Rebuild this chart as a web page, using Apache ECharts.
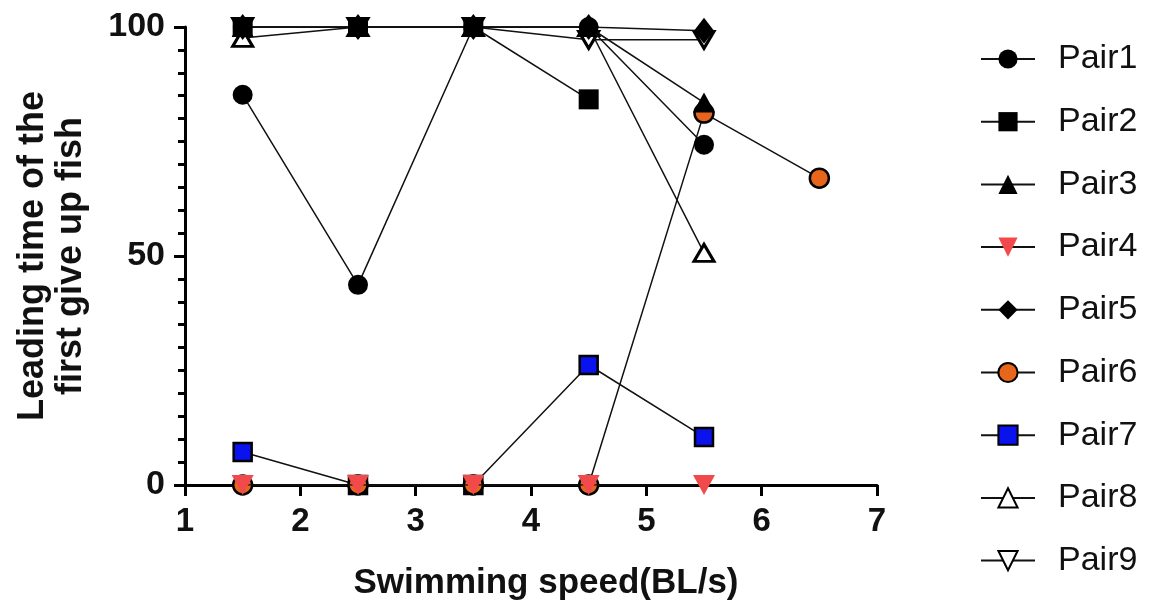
<!DOCTYPE html>
<html><head><meta charset="utf-8">
<script src="https://cdn.jsdelivr.net/npm/echarts@6/dist/echarts.min.js"></script>
<style>html,body{margin:0;padding:0;background:#fff}#c{width:1152px;height:608px}</style>
</head><body><div id="c"></div>
<script>
// Data
const speeds = [1.5, 2.5, 3.5, 4.5, 5.5, 6.5];
const pair1 = [85.2, 43.7, 100, 100, 74.3, null];
const pair2 = [100, 100, 100, 84.2, null, null];
const pair3 = [100, 100, 100, 100, 83.5, null];
const pair4 = [0, 0, 0, 0, 0, null];
const pair5 = [100, 100, 100, 100, 99.2, null];
const pair6 = [0, 0, 0, 0, 81.2, 67.0];
const pair7 = [7.2, 0, 0, 26.2, 10.5, null];
const pair8 = [97.6, 100, 100, 100, 50.7, null];
const pair9 = [100, 100, 100, 97.2, 97.2, null];
const names = ['Pair1','Pair2','Pair3','Pair4','Pair5','Pair6','Pair7','Pair8','Pair9'];
const values = [pair1, pair2, pair3, pair4, pair5, pair6, pair7, pair8, pair9];

const styles = [
  {symbol:'circle', size:20, color:'#000', borderColor:'#000', borderWidth:0},
  {symbol:'rect', size:20, color:'#000', borderColor:'#000', borderWidth:0},
  {symbol:'triangle', size:[22,20], color:'#000', borderColor:'#000', borderWidth:0},
  {symbol:'triangle', size:[22,20], rotate:180, color:'#F24A4A', borderColor:'#F24A4A', borderWidth:0},
  {symbol:'diamond', size:[20,26], color:'#000', borderColor:'#000', borderWidth:0},
  {symbol:'circle', size:19, color:'#E8661C', borderColor:'#000', borderWidth:2.5},
  {symbol:'rect', size:18, color:'#0A12EE', borderColor:'#000', borderWidth:2.5},
  {symbol:'triangle', size:[20,17], color:'#fff', borderColor:'#000', borderWidth:3},
  {symbol:'triangle', size:[20,17], rotate:180, color:'#fff', borderColor:'#000', borderWidth:3}
];

const FONT = 'Liberation Sans';
const series = names.map((n, i) => {
  const st = styles[i];
  const data = [];
  speeds.forEach((x, k) => { if (values[i][k] !== null) data.push([x, values[i][k]]); });
  return {
    name: n, type: 'line', data: data,
    symbol: st.symbol, symbolSize: st.size, symbolRotate: st.rotate || 0,
    showAllSymbol: true,
    z: 20 - i,
    lineStyle: {color: '#111', width: 1.5},
    itemStyle: {color: st.color, borderColor: st.borderColor, borderWidth: st.borderWidth, opacity: 1},
    emphasis: {disabled: true},
    animation: false
  };
});

const chart = echarts.init(document.getElementById('c'), null, {renderer: 'canvas'});
chart.setOption({
  backgroundColor: '#fff',
  animation: false,
  grid: {left: 185, right: 275, top: 27, bottom: 123, containLabel: false, outerBoundsMode: 'none'},
  xAxis: {
    type: 'value', min: 1, max: 7, interval: 1,
    name: 'Swimming speed(BL/s)', nameLocation: 'middle', nameGap: 81,
    nameTextStyle: {fontFamily: FONT, fontWeight: 'bold', fontSize: 35, color: '#111', padding: [0,0,0,30]},
    axisLine: {show: true, onZero: false, lineStyle: {color: '#000', width: 3}},
    axisTick: {show: true, length: 11, lineStyle: {color: '#000', width: 3}},
    axisLabel: {fontFamily: FONT, fontWeight: 'bold', fontSize: 33, color: '#111', margin: 20},
    splitLine: {show: false}
  },
  yAxis: {
    type: 'value', min: 0, max: 100, interval: 50,
    name: 'Leading time of the\nfirst give up fish', nameLocation: 'middle', nameGap: 95,
    nameTextStyle: {fontFamily: FONT, fontWeight: 'bold', fontSize: 36, color: '#111', lineHeight: 38},
    axisLine: {show: true, lineStyle: {color: '#000', width: 3}},
    axisTick: {show: true, length: 11, lineStyle: {color: '#000', width: 3}},
    minorTick: {show: true, splitNumber: 10, length: 7, lineStyle: {color: '#000', width: 3}},
    axisLabel: {fontFamily: FONT, fontWeight: 'bold', fontSize: 34, color: '#111', margin: 20},
    splitLine: {show: false}, minorSplitLine: {show: false}
  },
  legend: {
    data: names, orient: 'vertical', left: 975, top: 34,
    itemWidth: 54, itemHeight: 24, itemGap: 22.7,
    textStyle: {fontFamily: FONT, fontSize: 34, color: '#111', lineHeight: 40, padding: [0,0,0,18]},
    selectedMode: false
  },
  series: series
});
</script></body></html>
